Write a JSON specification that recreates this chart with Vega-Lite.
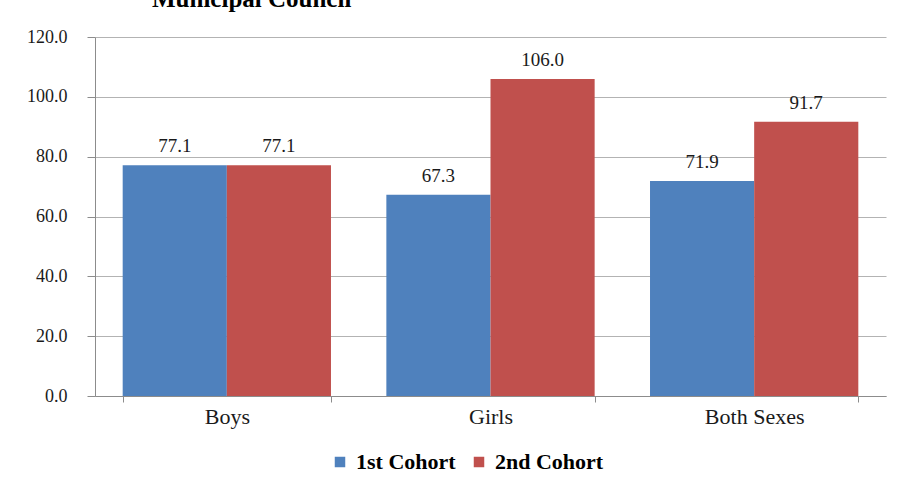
{
  "$schema": "https://vega.github.io/schema/vega-lite/v6.json",
  "width": 791,
  "height": 359,
  "autosize": {"type": "none"},
  "padding": {"left": 95, "top": 37, "right": 12, "bottom": 89},
  "background": "white",
  "title": {
    "text": "Municipal Council",
    "anchor": "start",
    "frame": "group",
    "dx": 57,
    "offset": -4,
    "baseline": "alphabetic",
    "font": "Times New Roman, Liberation Serif, serif",
    "fontSize": 25,
    "fontWeight": "bold",
    "color": "#000000"
  },
  "data": {
    "values": [
      {"group": "Boys", "cohort": "1st Cohort", "value": 77.1},
      {"group": "Boys", "cohort": "2nd Cohort", "value": 77.1},
      {"group": "Girls", "cohort": "1st Cohort", "value": 67.3},
      {"group": "Girls", "cohort": "2nd Cohort", "value": 106.0},
      {"group": "Both Sexes", "cohort": "1st Cohort", "value": 71.9},
      {"group": "Both Sexes", "cohort": "2nd Cohort", "value": 91.7}
    ]
  },
  "encoding": {
    "x": {
      "field": "group",
      "type": "nominal",
      "sort": ["Boys", "Girls", "Both Sexes"],
      "scale": {"paddingInner": 0.21, "paddingOuter": 0.105},
      "axis": {
        "title": null,
        "labelAngle": 0,
        "tickBand": "extent",
        "domainColor": "#8c8c8c",
        "tickColor": "#8c8c8c",
        "tickSize": 6,
        "labelFont": "Times New Roman, Liberation Serif, serif",
        "labelFontSize": 22,
        "labelColor": "#1a1a1a",
        "labelPadding": 4
      }
    },
    "xOffset": {"field": "cohort", "type": "nominal", "sort": ["1st Cohort", "2nd Cohort"]},
    "y": {
      "field": "value",
      "type": "quantitative",
      "scale": {"domain": [0, 120], "nice": false},
      "axis": {
        "title": null,
        "values": [0, 20, 40, 60, 80, 100, 120],
        "format": ".1f",
        "domainColor": "#8c8c8c",
        "tickColor": "#8c8c8c",
        "tickSize": 8,
        "gridColor": "#b3b3b3",
        "labelFont": "Times New Roman, Liberation Serif, serif",
        "labelFontSize": 18,
        "labelColor": "#1a1a1a",
        "labelPadding": 20
      }
    }
  },
  "layer": [
    {
      "mark": {"type": "bar"},
      "encoding": {
        "color": {
          "field": "cohort",
          "type": "nominal",
          "scale": {"domain": ["1st Cohort", "2nd Cohort"], "range": ["#4f81bd", "#c0504d"]},
          "legend": {
            "title": null,
            "orient": "none",
            "legendX": 234,
            "legendY": 414,
            "direction": "horizontal",
            "symbolType": "square",
            "symbolSize": 110,
            "symbolStrokeWidth": 0,
            "labelFont": "Times New Roman, Liberation Serif, serif",
            "labelFontSize": 22,
            "labelFontWeight": "bold",
            "labelColor": "#000000",
            "labelOffset": 5,
            "columnPadding": 12
          }
        }
      }
    },
    {
      "mark": {
        "type": "text",
        "dy": -19,
        "baseline": "middle",
        "font": "Times New Roman, Liberation Serif, serif",
        "fontSize": 19,
        "color": "#1a1a1a"
      },
      "encoding": {
        "text": {"field": "value", "type": "quantitative", "format": ".1f"}
      }
    }
  ],
  "config": {
    "view": {"stroke": null}
  }
}
